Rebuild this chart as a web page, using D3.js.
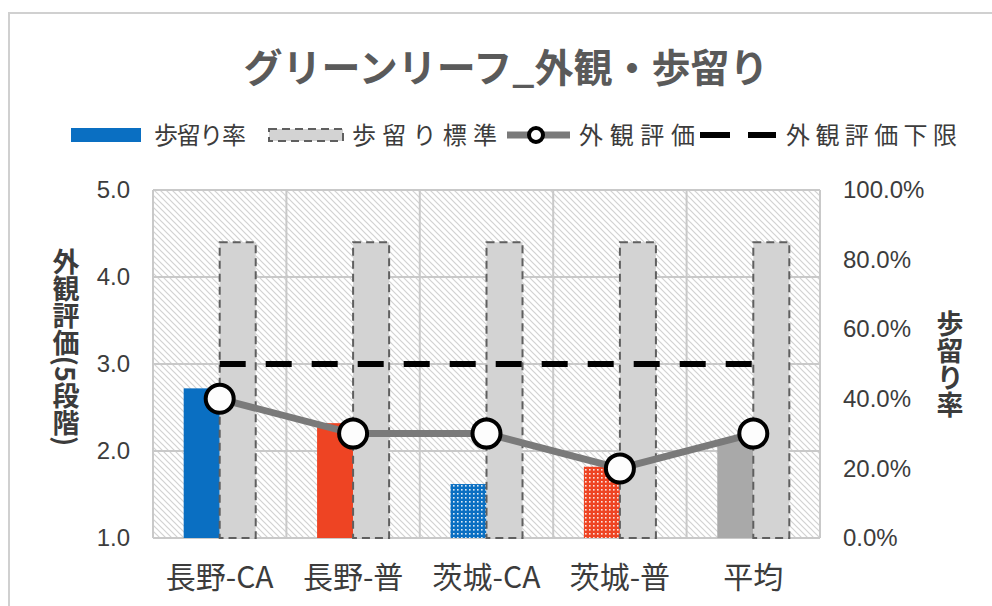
<!DOCTYPE html>
<html>
<head>
<meta charset="utf-8">
<script src="https://cdn.jsdelivr.net/npm/d3@7"></script>
<style>
  html, body { margin: 0; padding: 0; background: #fff; }
  svg { display: block; }
  .jp { font-family: "Noto Sans CJK JP", "Noto Sans", sans-serif; }
  .num { font-family: "Liberation Sans", Arial, sans-serif; }
</style>
</head>
<body>
<div id="chart"></div>
<script>
// Categories and series
const categories = ["長野-CA", "長野-普", "茨城-CA", "茨城-普", "平均"];
const yieldRate = [0.43, 0.33, 0.155, 0.205, 0.28];        // 歩留り率 (right axis)
const yieldStandard = [0.85, 0.85, 0.85, 0.85, 0.85];      // 歩留り標準 (right axis)
const appearance = [2.6, 2.2, 2.2, 1.8, 2.2];              // 外観評価 (left axis)
const appearanceMin = [3.0, 3.0, 3.0, 3.0, 3.0];           // 外観評価下限 (left axis)
const leftTicks = [1, 2, 3, 4, 5];
const rightTicks = [0, 0.2, 0.4, 0.6, 0.8, 1.0];

const title = "グリーンリーフ_外観・歩留り";
const leftTitle = "外観評価(5段階)";
const rightTitle = "歩留り率";

const W = 992, H = 606;
const plot = { left: 153, right: 820, top: 190, bottom: 538 };

const svg = d3.select("#chart").append("svg")
  .attr("width", W).attr("height", H);

const defs = svg.append("defs");

// diagonal hatch for the plot background
const hatch = defs.append("pattern")
  .attr("id", "hatch").attr("patternUnits", "userSpaceOnUse")
  .attr("width", 6).attr("height", 6);
hatch.append("rect").attr("width", 6).attr("height", 6).attr("fill", "#ffffff");
hatch.append("path")
  .attr("d", "M0,0 L6,6 M-1,5 L1,7 M5,-1 L7,1")
  .attr("stroke", "#d2d2d2").attr("stroke-width", 1.2);

// dotted fills for the 茨城 bars
function dotPattern(id, color) {
  const p = defs.append("pattern")
    .attr("id", id).attr("patternUnits", "userSpaceOnUse")
    .attr("width", 4).attr("height", 4);
  p.append("rect").attr("width", 4).attr("height", 4).attr("fill", color);
  p.append("rect").attr("x", 1).attr("y", 1).attr("width", 1.6).attr("height", 1.6)
    .attr("fill", "#ffffff").attr("opacity", 0.85);
}
dotPattern("dotBlue", "#0a6fc2");
dotPattern("dotRed", "#ee4423");

const barFills = ["#0a6fc2", "#ee4423", "url(#dotBlue)", "url(#dotRed)", "#a9a9a9"];

// chart frame
svg.append("rect")
  .attr("x", 9).attr("y", 13).attr("width", W).attr("height", H)
  .attr("fill", "#ffffff").attr("stroke", "#d0d0d0").attr("stroke-width", 2);

// scales
const x = d3.scaleBand().domain(categories).range([plot.left, plot.right]).padding(0);
const yL = d3.scaleLinear().domain([1, 5]).range([plot.bottom, plot.top]);
const yR = d3.scaleLinear().domain([0, 1]).range([plot.bottom, plot.top]);
const barW = x.bandwidth() * 0.27;
const cx = d => x(d) + x.bandwidth() / 2;

// plot background
svg.append("rect")
  .attr("x", plot.left).attr("y", plot.top)
  .attr("width", plot.right - plot.left).attr("height", plot.bottom - plot.top)
  .attr("fill", "url(#hatch)");

// gridlines
const grid = svg.append("g").attr("stroke", "#c9c9c9").attr("stroke-width", 2);
grid.selectAll("line.h").data(leftTicks).join("line")
  .attr("x1", plot.left).attr("x2", plot.right)
  .attr("y1", d => yL(d)).attr("y2", d => yL(d));
grid.selectAll("line.v").data(categories.concat(["__end"])).join("line")
  .attr("x1", (d, i) => i < categories.length ? x(d) : plot.right)
  .attr("x2", (d, i) => i < categories.length ? x(d) : plot.right)
  .attr("y1", plot.top).attr("y2", plot.bottom);

// 歩留り率 bars
svg.append("g").selectAll("rect").data(categories).join("rect")
  .attr("x", d => cx(d) - barW)
  .attr("width", barW)
  .attr("y", (d, i) => yR(yieldRate[i]))
  .attr("height", (d, i) => yR(0) - yR(yieldRate[i]))
  .attr("fill", (d, i) => barFills[i]);

// 歩留り標準 bars
svg.append("g").selectAll("rect").data(categories).join("rect")
  .attr("x", d => cx(d))
  .attr("width", barW)
  .attr("y", (d, i) => yR(yieldStandard[i]))
  .attr("height", (d, i) => yR(0) - yR(yieldStandard[i]))
  .attr("fill", "#d3d3d3")
  .attr("stroke", "#5f5f5f").attr("stroke-width", 2)
  .attr("stroke-dasharray", "8,5");

// 外観評価下限 line
svg.append("path")
  .datum(appearanceMin)
  .attr("d", d3.line().x((d, i) => cx(categories[i])).y(d => yL(d)))
  .attr("fill", "none").attr("stroke", "#000").attr("stroke-width", 6)
  .attr("stroke-dasharray", "26,20");

// 外観評価 line and markers
svg.append("path")
  .datum(appearance)
  .attr("d", d3.line().x((d, i) => cx(categories[i])).y(d => yL(d)))
  .attr("fill", "none").attr("stroke", "#7a7a7a").attr("stroke-width", 7);
svg.append("g").selectAll("circle").data(appearance).join("circle")
  .attr("cx", (d, i) => cx(categories[i]))
  .attr("cy", d => yL(d))
  .attr("r", 14)
  .attr("fill", "#fdfdfd").attr("stroke", "#000").attr("stroke-width", 4);

// axes
const axL = svg.append("g").attr("transform", `translate(${plot.left},0)`)
  .call(d3.axisLeft(yL).tickValues(leftTicks).tickFormat(d3.format(".1f")).tickSize(0).tickPadding(23));
const axR = svg.append("g").attr("transform", `translate(${plot.right},0)`)
  .call(d3.axisRight(yR).tickValues(rightTicks).tickFormat(d3.format(".1%")).tickSize(0).tickPadding(23));
const axB = svg.append("g").attr("transform", `translate(0,${plot.bottom})`)
  .call(d3.axisBottom(x).tickSize(0).tickPadding(29));
[axL, axR, axB].forEach(a => a.select(".domain").remove());
[axL, axR].forEach(a => a.selectAll("text")
  .attr("class", "num").attr("font-size", 24).attr("fill", "#3c3c3c")
  .style("font-family", "'Liberation Sans', Arial, sans-serif"));
axB.selectAll("text")
  .attr("font-size", 30).attr("fill", "#3c3c3c")
  .style("font-family", "'Noto Sans CJK JP', sans-serif");

// title
svg.append("text").attr("class", "jp")
  .attr("x", 506).attr("y", 68).attr("dy", "0.36em")
  .attr("text-anchor", "middle")
  .attr("font-size", 39).attr("font-weight", "bold").attr("fill", "#5a5a5a")
  .text(title);

// vertical axis titles
svg.append("text").attr("class", "jp")
  .attr("x", 66).attr("y", 347)
  .attr("text-anchor", "middle")
  .style("writing-mode", "vertical-rl")
  .attr("font-size", 27).attr("font-weight", "bold").attr("fill", "#3c3c3c")
  .text(leftTitle);
svg.append("text").attr("class", "jp")
  .attr("x", 950).attr("y", 364)
  .attr("text-anchor", "middle")
  .style("writing-mode", "vertical-rl")
  .attr("font-size", 27).attr("font-weight", "bold").attr("fill", "#3c3c3c")
  .text(rightTitle);

// legend
const lg = svg.append("g");
const ly = 135;
lg.append("rect").attr("x", 71).attr("y", ly - 7).attr("width", 70).attr("height", 14).attr("fill", "#0a6fc2");
lg.append("rect").attr("x", 269).attr("y", ly - 6).attr("width", 74).attr("height", 12)
  .attr("fill", "#d3d3d3").attr("stroke", "#5f5f5f").attr("stroke-width", 2).attr("stroke-dasharray", "8,5");
lg.append("line").attr("x1", 507).attr("x2", 570).attr("y1", ly).attr("y2", ly)
  .attr("stroke", "#7a7a7a").attr("stroke-width", 7);
lg.append("circle").attr("cx", 536).attr("cy", ly).attr("r", 7)
  .attr("fill", "#fdfdfd").attr("stroke", "#000").attr("stroke-width", 4);
lg.append("line").attr("x1", 700).attr("x2", 776).attr("y1", ly).attr("y2", ly)
  .attr("stroke", "#000").attr("stroke-width", 6).attr("stroke-dasharray", "30,18");

const legendLabels = [
  { text: "歩留り率", x: 154, w: 92 },
  { text: "歩留り標準", x: 352, w: 145 },
  { text: "外観評価", x: 579, w: 116 },
  { text: "外観評価下限", x: 786, w: 171 }
];
lg.selectAll("text.lab").data(legendLabels).join("text")
  .attr("class", "jp")
  .attr("x", d => d.x).attr("y", ly).attr("dy", "0.36em")
  .attr("font-size", 24).attr("fill", "#3c3c3c")
  .attr("textLength", d => d.w).attr("lengthAdjust", "spacing")
  .text(d => d.text);
</script>
</body>
</html>
